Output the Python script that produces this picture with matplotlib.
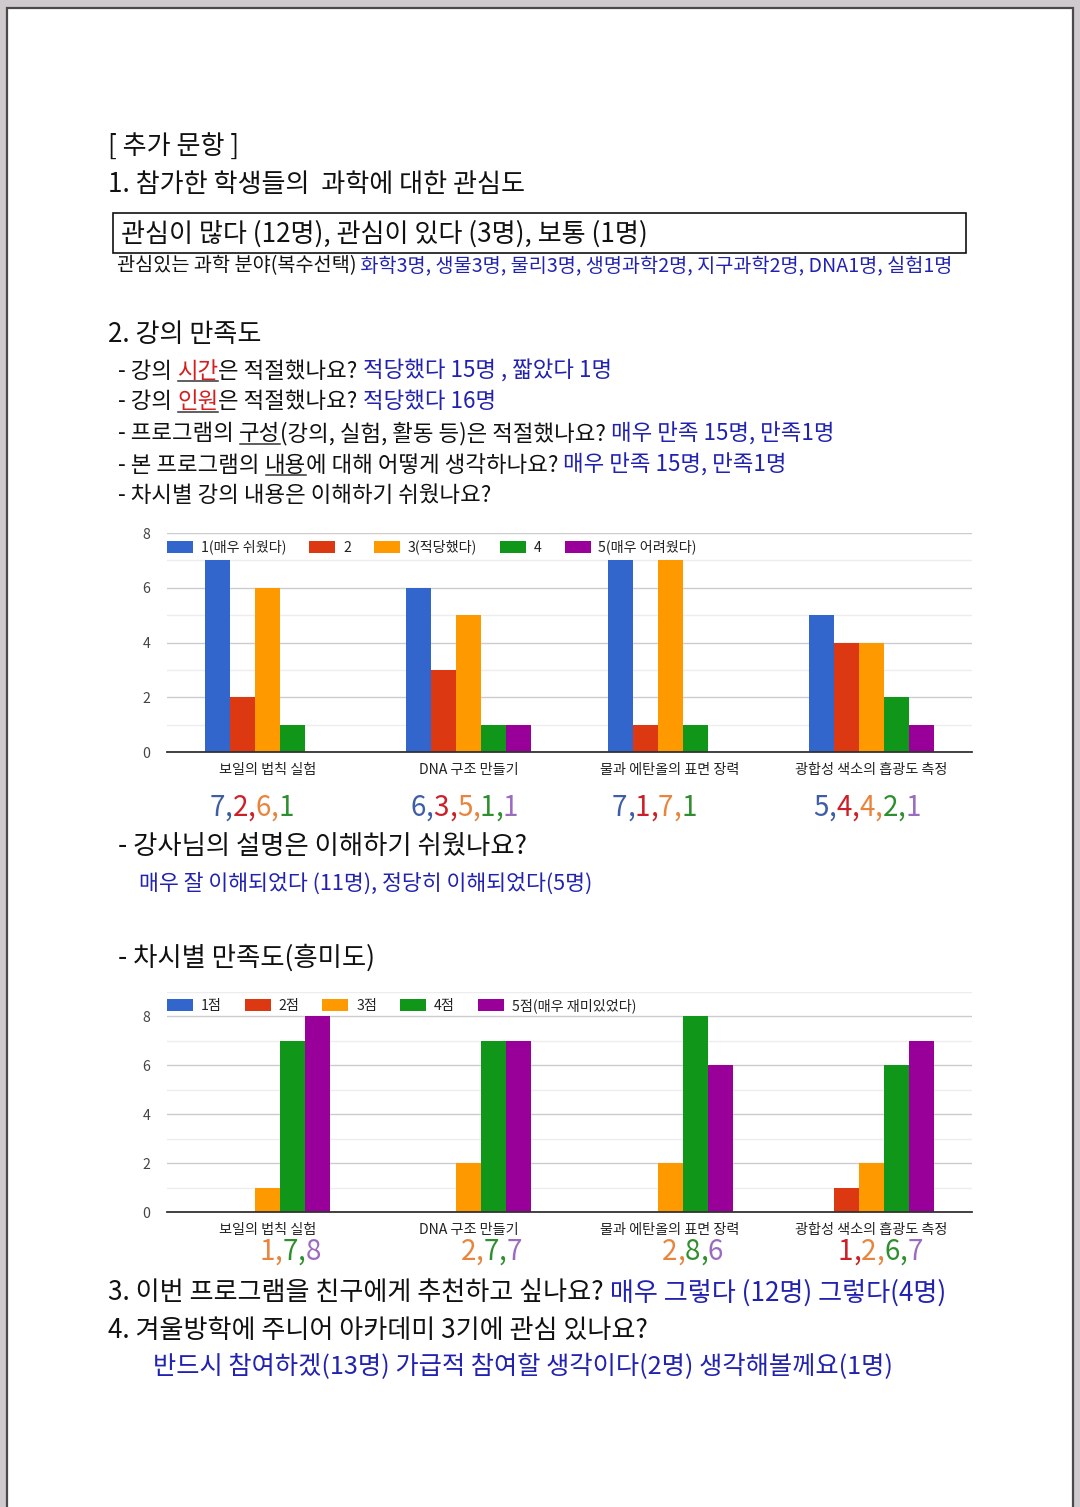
import matplotlib
matplotlib.use('Agg')
import matplotlib.pyplot as plt
from matplotlib.patches import Rectangle
import numpy as np

plt.rcParams['font.family'] = ['Noto Sans CJK KR', 'DejaVu Sans']

# ---------------- data ----------------
categories = ['보일의 법칙 실험', 'DNA 구조 만들기', '물과 에탄올의 표면 장력', '광합성 색소의 흡광도 측정']

ease_labels = ['1(매우 쉬웠다)', '2', '3(적당했다)', '4', '5(매우 어려웠다)']
ease_values = [
    [7, 6, 7, 5],
    [2, 3, 1, 4],
    [6, 5, 7, 4],
    [1, 1, 1, 2],
    [0, 1, 0, 1],
]

fun_labels = ['1점', '2점', '3점', '4점', '5점(매우 재미있었다)']
fun_values = [
    [0, 0, 0, 0],
    [0, 0, 0, 1],
    [1, 2, 2, 2],
    [7, 7, 8, 6],
    [8, 7, 6, 7],
]

bar_colors = ['#3366cc', '#dc3912', '#ff9900', '#109618', '#990099']
note_colors = ['#3d5ea6', '#cc1f26', '#e8843c', '#2f8f2f', '#9a6cc0']
BLUE = '#2222b0'
RED = '#d41f1f'
BLACK = '#111111'

# ---------------- figure ----------------
W, H = 1080, 1507
fig = plt.figure(figsize=(W / 100, H / 100), dpi=100)
fig.patch.set_facecolor('#cfcacd')
ov = fig.add_axes([0, 0, 1, 1])
ov.set_xlim(0, W)
ov.set_ylim(H, 0)
ov.axis('off')
ov.add_patch(Rectangle((7, 8), 1066, 1520, facecolor='white', edgecolor='#4a4a4a', lw=1.6))

renderer = fig.canvas.get_renderer()
DY = 2


def seq(x, y, parts, size, weight=500):
    for p in parts:
        txt, col = p[0], p[1]
        ul = len(p) > 2 and p[2]
        t = ov.text(x, y + DY, txt, color=col, fontsize=size, va='center', ha='left',
                    fontweight=weight)
        bb = t.get_window_extent(renderer=renderer)
        if ul:
            yb = H - bb.y0 - 2
            ov.plot([bb.x0 + 1, bb.x1], [yb, yb], color='#333333', lw=1.1)
        x = bb.x1
    return x


HEAD = 18.8
SUB = 16.1

seq(108, 145, [('[ 추가 문항 ]', BLACK)], HEAD)
seq(108, 182, [('1. 참가한 학생들의  과학에 대한 관심도', BLACK)], HEAD)
ov.add_patch(Rectangle((113, 213), 853, 40, facecolor='none', edgecolor='#111', lw=1.2))
seq(121, 232, [('관심이 많다 (12명), 관심이 있다 (3명), 보통 (1명)', BLACK)], HEAD)
seq(117, 264, [('관심있는 과학 분야(복수선택)', BLACK),
               (' 화학3명, 생물3명, 물리3명, 생명과학2명, 지구과학2명, DNA1명, 실험1명', BLUE)], 14.15)

seq(108, 333, [('2. 강의 만족도', BLACK)], HEAD)
seq(118, 369, [('- 강의 ', BLACK), ('시간', RED, True), ('은 적절했나요?', BLACK),
               (' 적당했다 15명 , 짧았다 1명', BLUE)], SUB)
seq(118, 400, [('- 강의 ', BLACK), ('인원', RED, True), ('은 적절했나요?', BLACK),
               (' 적당했다 16명', BLUE)], SUB)
seq(118, 432, [('- 프로그램의 ', BLACK), ('구성', BLACK, True), ('(강의, 실험, 활동 등)은 적절했나요?', BLACK),
               (' 매우 만족 15명, 만족1명', BLUE)], SUB)
seq(118, 463, [('- 본 프로그램의 ', BLACK), ('내용', BLACK, True), ('에 대해 어떻게 생각하나요?', BLACK),
               (' 매우 만족 15명, 만족1명', BLUE)], SUB)
seq(118, 494, [('- 차시별 강의 내용은 이해하기 쉬웠나요?', BLACK)], SUB)

seq(118, 844, [('- 강사님의 설명은 이해하기 쉬웠나요?', BLACK)], 19)
seq(139, 882, [('매우 잘 이해되었다 (11명), 정당히 이해되었다(5명)', BLUE)], 15.6)
seq(118, 956, [('- 차시별 만족도(흥미도)', BLACK)], 19)

seq(108, 1291, [('3. 이번 프로그램을 친구에게 추천하고 싶나요?', BLACK),
                (' 매우 그렇다 (12명) 그렇다(4명)', BLUE)], HEAD)
seq(108, 1328, [('4. 겨울방학에 주니어 아카데미 3기에 관심 있나요?', BLACK)], HEAD)
seq(153, 1365, [('반드시 참여하겠(13명) 가급적 참여할 생각이다(2명) 생각해볼께요(1명)', BLUE)], 18.2)

BW = 0.124
CF = 10.2


def chart(top_px, bottom_px, ymax, values, labels, legend_frac):
    ax = fig.add_axes([167 / W, (H - bottom_px) / H, 805 / W, (bottom_px - top_px) / H])
    ax.set_facecolor('none')
    x = np.arange(len(categories))
    for i, (vals, lab, c) in enumerate(zip(values, labels, bar_colors)):
        ax.bar(x + (i - 2) * BW, vals, width=BW, color=c, label=lab, linewidth=0, zorder=3)
    ax.set_xlim(-0.5, len(categories) - 0.5)
    ax.set_ylim(0, ymax)
    ax.set_yticks(range(0, 9, 2))
    ax.set_yticks(range(1, ymax + 1, 2), minor=True)
    ax.grid(axis='y', which='major', color='#cccccc', lw=1, zorder=0)
    ax.grid(axis='y', which='minor', color='#ededed', lw=1, zorder=0)
    ax.grid(axis='x', visible=False)
    for s in ['top', 'right', 'left']:
        ax.spines[s].set_visible(False)
    ax.spines['bottom'].set_color('#333333')
    ax.spines['bottom'].set_linewidth(1.3)
    ax.spines['bottom'].set_zorder(4)
    ax.tick_params(axis='both', which='both', length=0)
    ax.tick_params(axis='y', labelsize=CF, labelcolor='#444444', pad=12)
    ax.set_xticks(x, categories)
    ax.tick_params(axis='x', labelsize=CF, labelcolor='#222222', pad=8)
    ax.legend(loc='center left', bbox_to_anchor=(0, legend_frac), ncol=5, frameon=False,
              fontsize=CF, handlelength=1.83, handleheight=0.92, handletextpad=0.56,
              columnspacing=1.62, borderaxespad=0, borderpad=0, labelcolor='#222222')
    return ax


def notes(ax, values, y):
    for j in range(len(categories)):
        idx = [i for i in range(len(values)) if values[i][j] > 0]
        xd = j + (idx[0] - 2) * BW - BW / 2
        xp = ax.transData.transform((xd, 0))[0]
        parts = []
        for k, i in enumerate(idx):
            parts.append((str(values[i][j]), note_colors[i]))
            if k < len(idx) - 1:
                parts.append((',', note_colors[i]))
        seq(xp + 4, y, parts, 20, weight='normal')


ax1 = chart(533, 752, 8, ease_values, ease_labels, 7.48 / 8)
ax2 = chart(992, 1212, 9, fun_values, fun_labels, 8.44 / 9)
notes(ax1, ease_values, 806)
notes(ax2, fun_values, 1250)

fig.savefig('out.png', dpi=100, facecolor=fig.get_facecolor())
